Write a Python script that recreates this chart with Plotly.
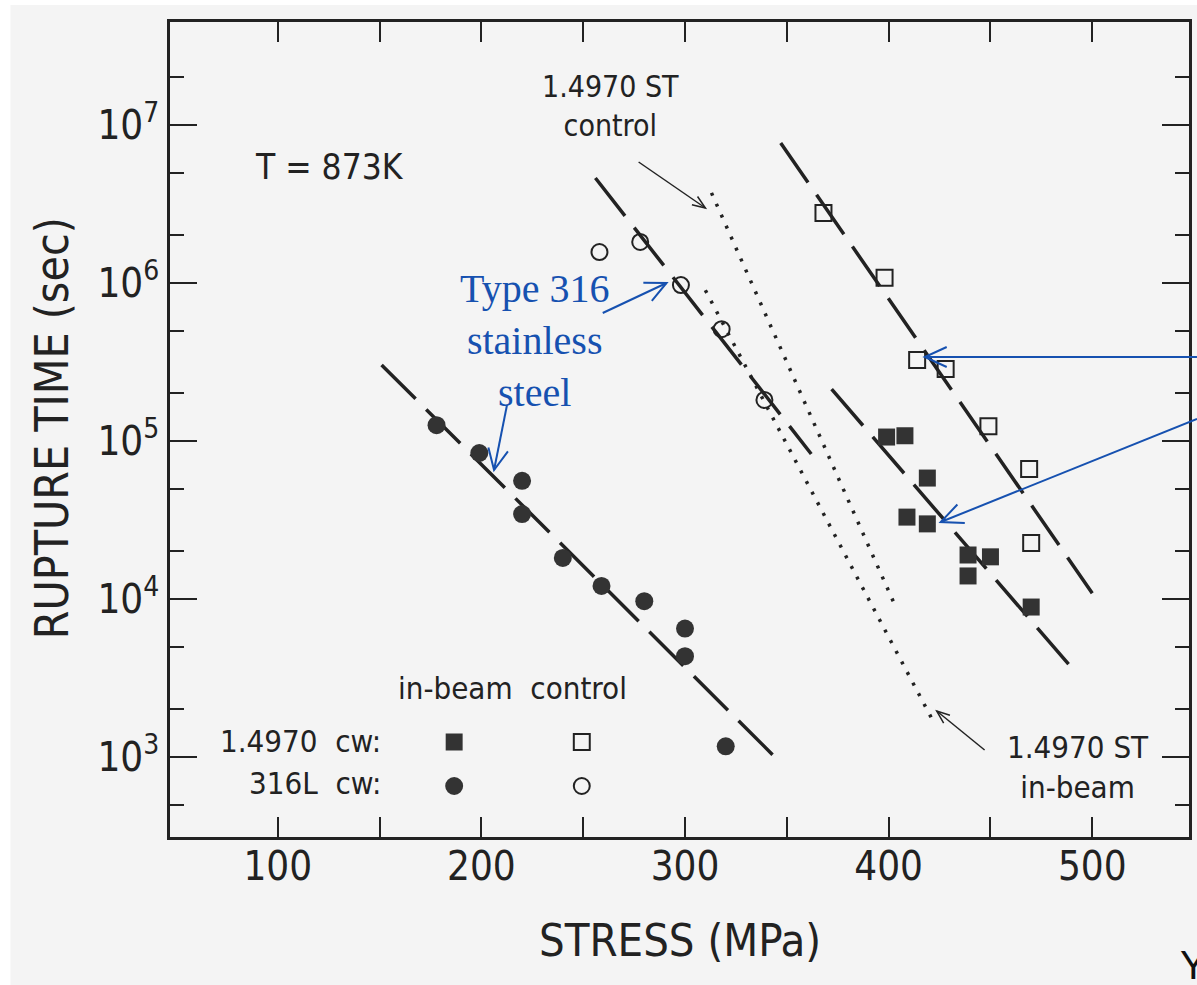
import math
import plotly.graph_objects as go

# ---------------- data ----------------
stress_316L_inbeam = [178, 199, 220, 220, 240, 259, 280, 300, 300, 320]
time_316L_inbeam = [1.26e5, 8.4e4, 5.6e4, 3.45e4, 1.82e4, 1.21e4, 9.7e3, 6.5e3, 4.35e3, 1.17e3]

stress_316L_control = [258, 278, 298, 318, 339]
time_316L_control = [1.57e6, 1.82e6, 9.7e5, 5.1e5, 1.82e5]

stress_14970_control = [368, 398, 414, 428, 449, 469, 470]
time_14970_control = [2.77e6, 1.08e6, 3.26e5, 2.86e5, 1.24e5, 6.65e4, 2.26e4]

stress_14970_inbeam = [399, 408, 419, 409, 419, 439, 450, 439, 470]
time_14970_inbeam = [1.06e5, 1.08e5, 5.83e4, 3.3e4, 2.99e4, 1.9e4, 1.85e4, 1.4e4, 8.9e3]

# fitted lines (end points)
fit_316L_inbeam_x = [151, 347]
fit_316L_inbeam_y = [3.03e5, 9.2e2]
fit_316L_control_x = [256, 362]
fit_316L_control_y = [4.62e6, 8.28e4]
fit_14970_control_x = [347, 500]
fit_14970_control_y = [7.7e6, 1.09e4]
fit_14970_inbeam_x = [372, 493]
fit_14970_inbeam_y = [2.13e5, 3.3e3]
st_control_x = [313, 403]
st_control_y = [3.72e6, 9.2e3]
st_inbeam_x = [310, 421]
st_inbeam_y = [9.0e5, 1.77e3]

x_tickvals = [100, 200, 300, 400, 500]
x_minor = [150, 250, 350, 450]
y_tickvals = [1e3, 1e4, 1e5, 1e6, 1e7]
y_ticktext = ["10<sup>3</sup>", "10<sup>4</sup>", "10<sup>5</sup>", "10<sup>6</sup>", "10<sup>7</sup>"]
y_minor = [5e2, 2e3, 5e3, 2e4, 5e4, 2e5, 5e5, 2e6, 5e6, 2e7]

# ---------------- styling ----------------
W, H = 1197, 985
L, R, T, B = 170, 1192, 22, 837
BG = "#f4f4f4"
INK = "#222222"
FILL = "#333333"
BLUE = "#1651b0"
SANS = "DejaVu Sans Condensed, Liberation Sans Narrow, DejaVu Sans, sans-serif"
SERIF = "Liberation Serif, Times New Roman, serif"


def px(X):
    return (X - L) / (R - L)


def py(Y):
    return (B - Y) / (B - T)


fig = go.Figure()

line_style = dict(color=INK, width=3.5, dash="48px,15px")
for xs, ys in [(fit_316L_inbeam_x, fit_316L_inbeam_y),
               (fit_316L_control_x, fit_316L_control_y),
               (fit_14970_control_x, fit_14970_control_y),
               (fit_14970_inbeam_x, fit_14970_inbeam_y)]:
    fig.add_trace(go.Scatter(x=xs, y=ys, mode="lines", line=line_style, hoverinfo="skip"))

dot_style = dict(color=INK, width=3.5, dash="3px,9px")
for xs, ys in [(st_control_x, st_control_y), (st_inbeam_x, st_inbeam_y)]:
    fig.add_trace(go.Scatter(x=xs, y=ys, mode="lines", line=dot_style, hoverinfo="skip"))

fig.add_trace(go.Scatter(x=stress_316L_inbeam, y=time_316L_inbeam, mode="markers",
                         marker=dict(symbol="circle", size=18, color=FILL, line=dict(width=0))))
fig.add_trace(go.Scatter(x=stress_316L_control, y=time_316L_control, mode="markers",
                         marker=dict(symbol="circle-open", size=16, color=INK, line=dict(width=2))))
fig.add_trace(go.Scatter(x=stress_14970_control, y=time_14970_control, mode="markers",
                         marker=dict(symbol="square-open", size=16, color=INK, line=dict(width=2))))
fig.add_trace(go.Scatter(x=stress_14970_inbeam, y=time_14970_inbeam, mode="markers",
                         marker=dict(symbol="square", size=17, color=FILL, line=dict(width=0))))

axis_common = dict(showline=True, linewidth=2.5, linecolor=INK, mirror="ticks",
                   ticks="inside", tickcolor=INK, tickwidth=2, showgrid=False, zeroline=False,
                   tickfont=dict(family=SANS, size=40, color=INK))

fig.update_xaxes(range=[47.1, 547.5], tickvals=x_tickvals, ticklen=20,
                 minor=dict(tickvals=x_minor, ticks="inside", ticklen=20, tickwidth=2, tickcolor=INK,
                            showgrid=False),
                 ticklabelstandoff=-8, **axis_common)
fig.update_yaxes(type="log", range=[2.494, 7.652], tickvals=y_tickvals, ticktext=y_ticktext, ticklen=27,
                 minor=dict(tickvals=y_minor, ticks="inside", ticklen=14, tickwidth=2, tickcolor=INK,
                            showgrid=False),
                 ticklabelstandoff=0, **axis_common)

ann = []


def text(s, X, Y, size, xanchor="center", font=SANS, color=INK, angle=0, yanchor="middle", align="center"):
    ann.append(dict(text=s, x=px(X), y=py(Y), xref="paper", yref="paper", showarrow=False,
                    xanchor=xanchor, yanchor=yanchor, textangle=angle, align=align,
                    font=dict(family=font, size=size, color=color)))


text("STRESS (MPa)", 681, 941, 45)
text("RUPTURE TIME (sec)", 52, 428, 46, angle=-90)
text("T = 873K", 330, 167, 35)
text("1.4970 ST<br>control", 612, 106, 30)
text("1.4970 ST<br>in-beam", 1081, 767, 31)
text("in-beam  control", 514, 688, 31)
text("1.4970  cw:", 384, 741, 31, xanchor="right")
text("316L  cw:", 384, 783, 31, xanchor="right")
text("Type 316<br>stainless<br>steel", 536, 341, 40, font=SERIF, color=BLUE)
text("Y", 1181, 965, 40, xanchor="left", font="Liberation Sans, Arial, sans-serif", color="#111111")

shapes = []
# scan border strips
shapes.append(dict(type="rect", xref="paper", yref="paper", x0=px(-5), x1=px(10), y0=py(-5), y1=py(990),
                   fillcolor="white", line=dict(width=0), layer="below"))
shapes.append(dict(type="rect", xref="paper", yref="paper", x0=px(-5), x1=px(1205), y0=py(5), y1=py(-5),
                   fillcolor="white", line=dict(width=0), layer="below"))


def arrow(x0, y0, x1, y1, color, width, hl, hw):
    dx, dy = x1 - x0, y1 - y0
    d = math.hypot(dx, dy)
    ux, uy = dx / d, dy / d
    nx, ny = -uy, ux
    bx, by = x1 - hl * ux, y1 - hl * uy
    b1 = (bx + hw * nx, by + hw * ny)
    b2 = (bx - hw * nx, by - hw * ny)
    shapes.append(dict(type="line", xref="paper", yref="paper", x0=px(x0), y0=py(y0), x1=px(x1), y1=py(y1),
                       line=dict(color=color, width=width)))
    path = "M{},{} L{},{} L{},{}".format(px(b1[0]), py(b1[1]), px(x1), py(y1), px(b2[0]), py(b2[1]))
    shapes.append(dict(type="path", xref="paper", yref="paper", path=path,
                       line=dict(color=color, width=width)))


arrow(640, 162, 707, 208, INK, 1.5, 13, 5)
arrow(987, 750, 939, 711, INK, 1.5, 13, 5)
arrow(604, 313, 668, 283, BLUE, 2, 21, 10)
arrow(508, 405, 495, 470, BLUE, 2, 21, 10)
arrow(1200, 357, 927, 357, BLUE, 2, 22, 10)
arrow(1200, 419, 943, 522, BLUE, 2, 22, 10)

# legend symbols
s = 8.5
shapes.append(dict(type="rect", xref="paper", yref="paper", x0=px(455 - s), x1=px(455 + s), y0=py(742 + s),
                   y1=py(742 - s), fillcolor=FILL, line=dict(width=0)))
s = 8
shapes.append(dict(type="rect", xref="paper", yref="paper", x0=px(583 - s), x1=px(583 + s), y0=py(742 + s),
                   y1=py(742 - s), fillcolor="rgba(0,0,0,0)", line=dict(color=INK, width=2)))
s = 9
shapes.append(dict(type="circle", xref="paper", yref="paper", x0=px(455 - s), x1=px(455 + s), y0=py(786 + s),
                   y1=py(786 - s), fillcolor=FILL, line=dict(width=0)))
s = 8
shapes.append(dict(type="circle", xref="paper", yref="paper", x0=px(583 - s), x1=px(583 + s), y0=py(786 + s),
                   y1=py(786 - s), fillcolor="rgba(0,0,0,0)", line=dict(color=INK, width=2)))

fig.update_layout(width=W, height=H, margin=dict(l=L, r=W - R, t=T, b=H - B),
                  paper_bgcolor=BG, plot_bgcolor=BG, showlegend=False,
                  annotations=ann, shapes=shapes)

fig.write_html("out.html")
